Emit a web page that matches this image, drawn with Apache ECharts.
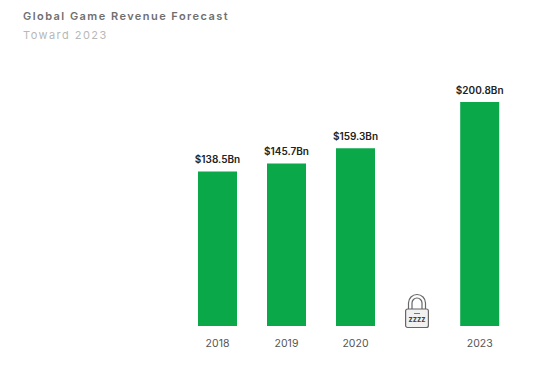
<!DOCTYPE html>
<html>
<head>
<meta charset="utf-8">
<title>Global Game Revenue Forecast</title>
<script src="https://cdn.jsdelivr.net/npm/echarts@6/dist/echarts.min.js"></script>
<style>
    html, body { margin: 0; padding: 0; background: #fff; }
    #chart { width: 554px; height: 378px; }
    /* Solo el título y el subtítulo van espaciados */
    #chart text[fill="#6f6f6f"], #chart text[fill="#b8b8b8"] { letter-spacing: 1.45px; }
</style>
</head>
<body>
<div id="chart"></div>
<script>
// Datos del gráfico (los huecos vacíos separan 2020 de 2023)
const categories = ['2018', '', '', '', '', '2019', '', '', '', '', '2020', '', '', '', '', '', '', '', '', '2023'];
const revenue = [138.5, null, null, null, null, 145.7, null, null, null, null, 159.3, null, null, null, null, null, null, null, null, 200.8];

const chart = echarts.init(document.getElementById('chart'), null, { renderer: 'svg' });
const fontFamily = 'Inter, Lato, sans-serif';
const lockColor = '#666';

const option = {
    animation: false,
    backgroundColor: '#fff',
    title: {
        text: 'Global Game Revenue Forecast',
        subtext: 'Toward 2023',
        left: 18,
        top: 5,
        itemGap: 8,
        textStyle: { color: '#6f6f6f', fontSize: 11, fontWeight: 600, fontFamily },
        subtextStyle: { color: '#b8b8b8', fontSize: 11, fontWeight: 400, fontFamily },
    },
    grid: { left: 210.6, width: 276, top: 76, height: 250 },
    xAxis: {
        type: 'category',
        data: categories,
        axisLine: { show: false },
        axisTick: { show: false },
        axisLabel: { interval: 0, margin: 12, color: '#555', fontSize: 10.5, fontFamily },
    },
    yAxis: { type: 'value', min: 0, max: 224, show: false },
    series: [
        {
            type: 'bar',
            data: revenue,
            barWidth: 39,
            clip: false,
            itemStyle: { color: '#0ba84a' },
            label: {
                show: true,
                position: 'top',
                distance: 7,
                color: '#222',
                fontSize: 10,
                fontWeight: 600,
                fontFamily,
                formatter: p => '$' + p.value.toFixed(1) + 'Bn',
            },
        },
    ],
    // Icono del candado entre 2020 y 2023
    graphic: [
        {
            type: 'group',
            left: 405,
            top: 292,
            children: [
                { type: 'arc', shape: { cx: 12, cy: 9, r: 8.5, startAngle: Math.PI, endAngle: 0 }, style: { fill: 'none', stroke: lockColor, lineWidth: 1.2 } },
                { type: 'arc', shape: { cx: 12, cy: 9, r: 5, startAngle: Math.PI, endAngle: 0 }, style: { fill: 'none', stroke: lockColor, lineWidth: 1.2 } },
                { type: 'line', shape: { x1: 3.5, y1: 9, x2: 3.5, y2: 15 }, style: { stroke: lockColor, lineWidth: 1.2 } },
                { type: 'line', shape: { x1: 7, y1: 9, x2: 7, y2: 15 }, style: { stroke: lockColor, lineWidth: 1.2 } },
                { type: 'line', shape: { x1: 17, y1: 9, x2: 17, y2: 15 }, style: { stroke: lockColor, lineWidth: 1.2 } },
                { type: 'line', shape: { x1: 20.5, y1: 9, x2: 20.5, y2: 15 }, style: { stroke: lockColor, lineWidth: 1.2 } },
                { type: 'rect', shape: { x: 0.6, y: 15, width: 22.8, height: 18.5, r: 2 }, style: { fill: '#f1f1f1', stroke: lockColor, lineWidth: 1.2 } },
                { type: 'rect', shape: { x: 9, y: 19, width: 6, height: 1 }, style: { fill: '#777' } },
                { type: 'text', x: 12, y: 21.5, style: { text: 'zzzz', fill: '#444', fontSize: 7.5, fontWeight: 700, align: 'center', fontFamily } },
            ],
        },
    ],
};

chart.setOption(option);
</script>
</body>
</html>
